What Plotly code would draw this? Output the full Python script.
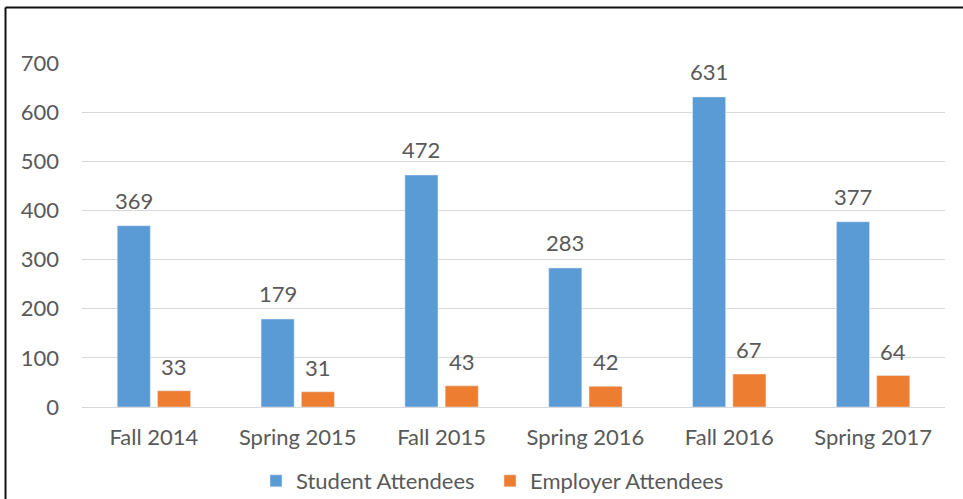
import plotly.graph_objects as go

categories = ["Fall 2014", "Spring 2015", "Fall 2015", "Spring 2016", "Fall 2016", "Spring 2017"]
student = [369, 179, 472, 283, 631, 377]
employer = [33, 31, 43, 42, 67, 64]

BLUE = "#5B9BD5"
ORANGE = "#ED7D31"
TXT = "#595959"
FONT = "Lato"
FS = 22

fig = go.Figure()
fig.add_trace(go.Bar(x=categories, y=student, name="Student Attendees", marker_color=BLUE,
                     width=0.23, offset=-0.255))
fig.add_trace(go.Bar(x=categories, y=employer, name="Employer Attendees", marker_color=ORANGE,
                     width=0.23, offset=0.025))

annotations = []
for i, c in enumerate(categories):
    annotations.append(dict(x=i - 0.14, y=student[i], text=str(student[i]), showarrow=False,
                            xref="x", yref="y", yanchor="bottom", yshift=10,
                            font=dict(family=FONT, size=FS, color=TXT)))
    annotations.append(dict(x=i + 0.14, y=employer[i], text=str(employer[i]), showarrow=False,
                            xref="x", yref="y", yanchor="bottom", yshift=9,
                            font=dict(family=FONT, size=FS, color=TXT)))

W, H = 963, 499
L, R, T, B = 82, 18, 63, 92
pw, ph = W - L - R, H - T - B

def px(xp):
    return (xp - L) / pw

def py(yp):
    return (H - B - yp) / ph

shapes = [
    dict(type="line", xref="paper", yref="paper", x0=px(5.5), x1=px(970), y0=py(7.5), y1=py(7.5),
         line=dict(color="#111111", width=2)),
    dict(type="line", xref="paper", yref="paper", x0=px(5.5), x1=px(5.5), y0=py(7.5), y1=py(510),
         line=dict(color="#111111", width=2)),
]

fig.update_layout(
    width=W, height=H,
    margin=dict(l=L, r=R, t=T, b=B, autoexpand=False),
    paper_bgcolor="white", plot_bgcolor="white",
    font=dict(family=FONT, size=FS, color=TXT),
    showlegend=True,
    legend=dict(orientation="h", x=px(256), xanchor="left", y=py(481), yanchor="middle",
                font=dict(family=FONT, size=FS, color=TXT), itemwidth=30,
                entrywidth=189, entrywidthmode="pixels"),
    annotations=annotations,
    shapes=shapes,
    xaxis=dict(type="category", showgrid=False, showline=False, ticks="",
               ticklabelstandoff=15, tickfont=dict(size=FS)),
    yaxis=dict(range=[0, 700], dtick=100, showgrid=True, gridcolor="#D9D9D9", gridwidth=1,
               zeroline=True, zerolinecolor="#D9D9D9", zerolinewidth=1, showline=False,
               ticks="", ticklabelstandoff=22, tickfont=dict(size=FS)),
)

fig.write_html("out.html", config={"displayModeBar": False},
               post_script="document.body.style.margin='0';document.body.style.overflow='hidden';")
